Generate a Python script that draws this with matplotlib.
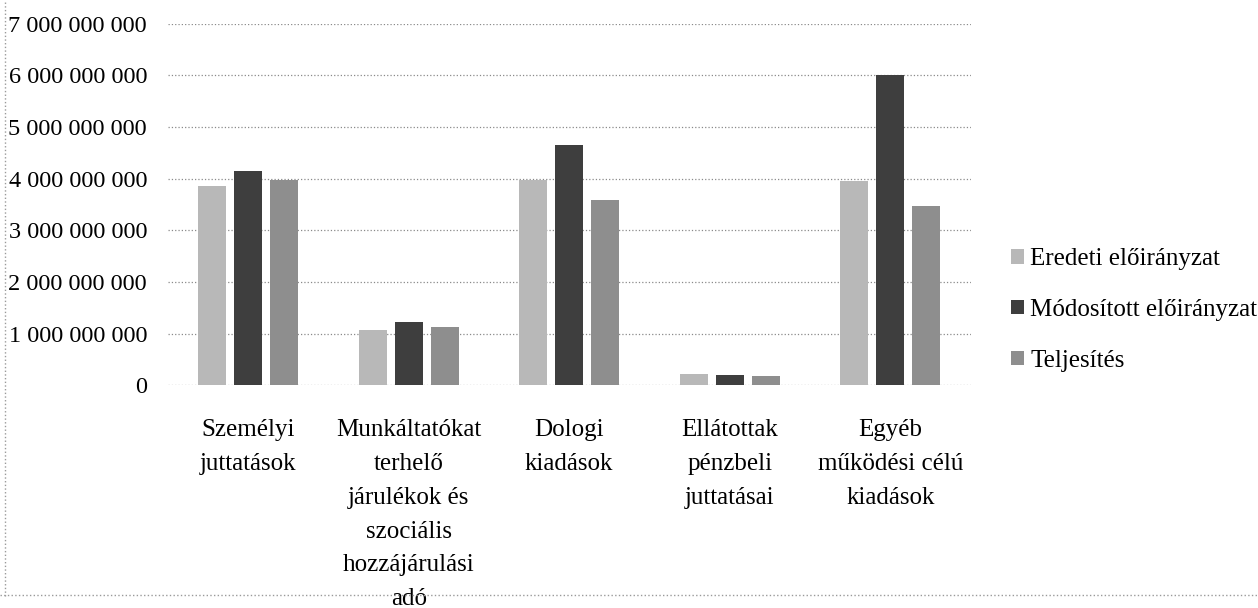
import matplotlib.pyplot as plt
import numpy as np
from matplotlib.ticker import FuncFormatter
from matplotlib.lines import Line2D

categories = [
    "Személyi\njuttatások",
    "Munkáltatókat\nterhelő\njárulékok és\nszociális\nhozzájárulási\nadó",
    "Dologi\nkiadások",
    "Ellátottak\npénzbeli\njuttatásai",
    "Egyéb\nműködési célú\nkiadások",
]
series_names = ["Eredeti előirányzat", "Módosított előirányzat", "Teljesítés"]
eredeti = [3.86e9, 1.08e9, 3.97e9, 0.22e9, 3.95e9]
modositott = [4.15e9, 1.22e9, 4.66e9, 0.21e9, 6.0e9]
teljesites = [3.98e9, 1.13e9, 3.59e9, 0.19e9, 3.47e9]
colors = ["#b8b8b8", "#3e3e3e", "#8e8e8e"]

plt.rcParams["font.family"] = ["Liberation Serif", "DejaVu Serif"]


def space_fmt(v, pos):
    if v == 0:
        return "0"
    return f"{int(v):,}".replace(",", " ")


def main():
    fig = plt.figure(figsize=(12.58, 6.08), dpi=100)
    ax = fig.add_axes([0.1335, 0.366, 0.638, 0.595])

    x = np.arange(len(categories))
    step = 0.224
    width = 0.175
    for i, (vals, name) in enumerate(zip([eredeti, modositott, teljesites], series_names)):
        ax.bar(x + (i - 1) * step, vals, width, color=colors[i], label=name, zorder=3)

    ax.set_ylim(0, 7e9)
    ax.set_xlim(-0.5, len(categories) - 0.5)
    ax.set_yticks(np.arange(0, 7.01e9, 1e9))
    ax.yaxis.set_major_formatter(FuncFormatter(space_fmt))
    ax.grid(axis="y", linestyle=":", color="#8a8a8a", linewidth=0.9, zorder=0)
    for s in ax.spines.values():
        s.set_visible(False)
    ax.tick_params(axis="y", length=0, pad=15, labelsize=17.5)
    ax.tick_params(axis="x", length=0, pad=24)
    ax.set_xticks(x)
    ax.set_xticklabels(categories, fontsize=18, linespacing=1.7, va="top")

    ax.legend(loc="center left", bbox_to_anchor=(0.786, 0.49), bbox_transform=fig.transFigure,
              frameon=False, fontsize=18, handlelength=0.5, handleheight=0.5,
              handletextpad=0.25, labelspacing=1.15)

    # dotted chart frame edges (left and bottom)
    fig.add_artist(Line2D([0.004, 0.004], [0.02, 1.0], transform=fig.transFigure,
                          color="#9a9a9a", linestyle=":", linewidth=1))
    fig.add_artist(Line2D([0.0, 1.0], [0.022, 0.022], transform=fig.transFigure,
                          color="#9a9a9a", linestyle=":", linewidth=1))

    fig.savefig("out.png", dpi=100)


if __name__ == "__main__":
    main()
